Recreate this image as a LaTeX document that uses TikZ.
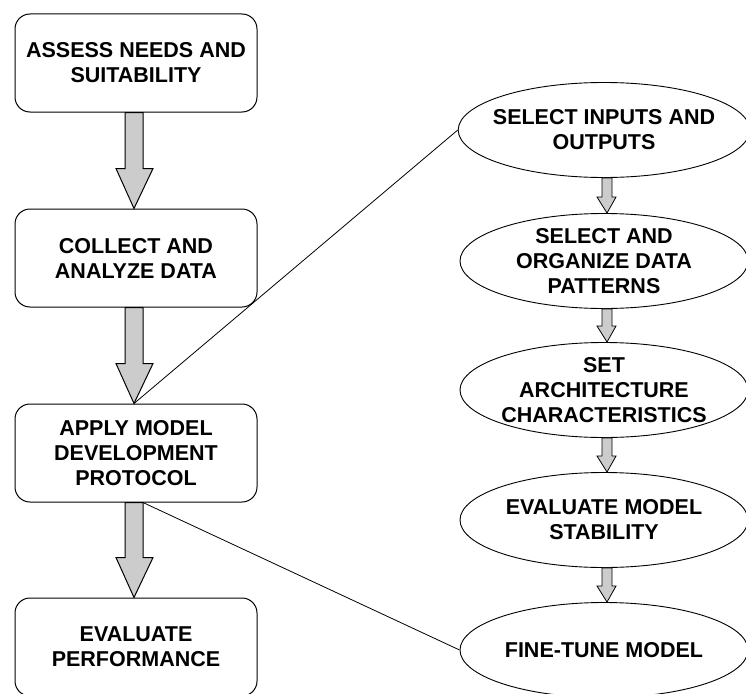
\documentclass[tikz,border=0pt]{standalone}
\usepackage{fontspec}
\setmainfont{Liberation Sans}
\usetikzlibrary{shapes.geometric,calc}
\begin{document}
\begin{tikzpicture}[x=1pt,y=-1pt,
  txt/.style={align=center,font=\bfseries\fontsize{21.5}{25}\selectfont},
  box/.style={txt,draw,line width=1pt,rounded corners=15pt,minimum width=242pt,minimum height=98pt,inner sep=0pt},
  oval/.style={txt,draw,line width=0.9pt,ellipse,minimum width=288pt,minimum height=95pt,inner xsep=-8pt,inner ysep=-18pt},
  fat/.style={draw,line width=1pt,fill=black!20,line join=miter},
  link/.style={draw,line width=0.8pt}]
\useasboundingbox (0,0) rectangle (746,693);
\node[box] (b1) at (136,63) {ASSESS NEEDS AND\\SUITABILITY};
\node[box] (b2) at (136,258) {COLLECT AND\\ANALYZE DATA};
\node[box] (b3) at (136,453) {APPLY MODEL\\DEVELOPMENT\\PROTOCOL};
\node[box] (b4) at (136,647) {EVALUATE\\PERFORMANCE};
\node[oval] (e1) at (604,130) {SELECT INPUTS AND\\OUTPUTS};
\node[oval] (e2) at (604,261) {SELECT AND\\ORGANIZE DATA\\PATTERNS};
\node[oval] (e3) at (604,390) {SET\\ARCHITECTURE\\CHARACTERISTICS};
\node[oval] (e4) at (604,520) {EVALUATE MODEL\\STABILITY};
\node[oval] (e5) at (604,650) {FINE-TUNE MODEL};
\foreach \a/\b in {b1/b2,b2/b3,b3/b4}{
  \draw[fat] ($(\a.south)+(-11,0)$) -- ($(\b.north)+(-11,-40)$) -- ($(\b.north)+(-20,-40)$) -- ($(\b.north)+(-2,0)$)
    -- ($(\b.north)+(17,-40)$) -- ($(\b.north)+(7,-40)$) -- ($(\a.south)+(7,0)$) -- cycle;}
\foreach \a/\b in {e1/e2,e2/e3,e3/e4,e4/e5}{
  \draw[fat,line width=0.8pt] ($(\a.south)+(-2,0)$) -- ($(\b.north)+(-2,-16)$) -- ($(\b.north)+(-7,-16)$) -- ($(\b.north)+(3,0)$)
    -- ($(\b.north)+(12,-16)$) -- ($(\b.north)+(8,-16)$) -- ($(\a.south)+(8,0)$) -- cycle;}
\draw[link] ($(b3.north)+(-2,0)$) -- (e1.west);
\draw[link] ($(b3.south)+(7,0)$) -- (e5.west);
\end{tikzpicture}
\end{document}
